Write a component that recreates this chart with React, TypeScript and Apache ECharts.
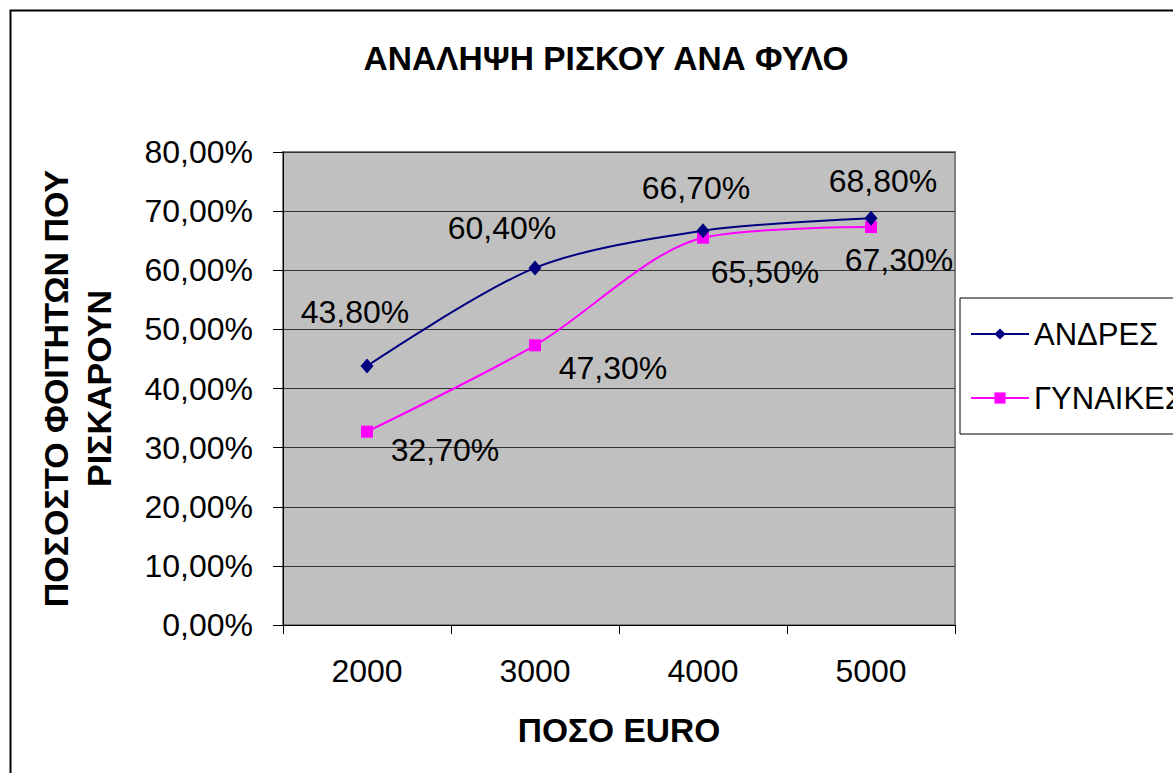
import React, { useEffect, useRef } from "react";
import * as echarts from "echarts";

const categories = ["2000", "3000", "4000", "5000"];
const menValues = [43.8, 60.4, 66.7, 68.8];
const womenValues = [32.7, 47.3, 65.5, 67.3];
const seriesNames = ["ΑΝΔΡΕΣ", "ΓΥΝΑΙΚΕΣ"];
const titleText = "ΑΝΑΛΗΨΗ ΡΙΣΚΟΥ ΑΝΑ ΦΥΛΟ";
const xAxisTitle = "ΠΟΣΟ EURO";
const yAxisTitle = "ΠΟΣΟΣΤΟ ΦΟΙΤΗΤΩΝ ΠΟΥ\nΡΙΣΚΑΡΟΥΝ";

// label placement (layout only)
const menLabelOffsets = [[-12, -54], [-33, -40], [-7, -43], [12, -37]];
const womenLabelOffsets = [[78, 18], [78, 23], [62, 34], [28, 33]];

const FONT = "'Liberation Sans', Arial, sans-serif";
const fmt = (v: number) => v.toFixed(2).replace(".", ",") + "%";

export default function App() {
  const ref = useRef<HTMLDivElement>(null);
  useEffect(() => {
    if (!ref.current) return;
    const chart = echarts.init(ref.current, undefined, { renderer: "svg" });
    const mkData = (vals: number[], offs: number[][]) =>
      vals.map((v, i) => ({
        value: v,
        label: { offset: offs[i] },
      }));
    const labelStyle = {
      show: true,
      position: "inside" as const,
      formatter: (p: any) => fmt(p.value),
      fontSize: 32,
      fontFamily: FONT,
      color: "#000",
    };
    chart.setOption({
      animation: false,
      backgroundColor: "#fff",
      textStyle: { fontFamily: FONT },
      title: {
        text: titleText,
        left: 601,
        top: 36,
        textAlign: "center",
        textStyle: { fontSize: 33.5, fontWeight: "bold", color: "#000", fontFamily: FONT },
      },
      legend: {
        orient: "vertical",
        left: 960,
        top: 298,
        padding: [20, 30, 20, 10],
        itemGap: 32,
        itemWidth: 58,
        itemHeight: 14,
        borderColor: "#000",
        borderWidth: 1,
        backgroundColor: "#fff",
        textStyle: { fontSize: 31, color: "#000", fontFamily: FONT, lineHeight: 32 },
        data: seriesNames,
      },
      grid: {
        left: 283,
        top: 152,
        right: 218,
        bottom: 148,
        show: true,
        backgroundColor: "#C0C0C0",
        borderColor: "#808080",
        borderWidth: 2,
      },
      xAxis: {
        type: "category",
        data: categories,
        boundaryGap: true,
        axisLine: { lineStyle: { color: "#000", width: 1 } },
        axisTick: { show: true, length: 9, lineStyle: { color: "#000" } },
        axisLabel: { fontSize: 32, color: "#000", margin: 30, fontFamily: FONT },
        name: xAxisTitle,
        nameLocation: "middle",
        nameGap: 88,
        nameTextStyle: { fontSize: 33.5, fontWeight: "bold", color: "#000", fontFamily: FONT },
      },
      yAxis: {
        type: "value",
        min: 0,
        max: 80,
        interval: 10,
        axisLine: { show: true, lineStyle: { color: "#000", width: 1 } },
        axisTick: { show: true, length: 10, lineStyle: { color: "#000" } },
        axisLabel: { fontSize: 32, color: "#000", margin: 30, formatter: (v: number) => fmt(v), fontFamily: FONT },
        splitLine: { show: true, lineStyle: { color: "#333", width: 1 } },
        name: yAxisTitle,
        nameLocation: "middle",
        nameRotate: 90,
        nameGap: 163,
        nameTextStyle: { fontSize: 34, fontWeight: "bold", color: "#000", lineHeight: 43, fontFamily: FONT },
      },
      series: [
        {
          name: seriesNames[0],
          type: "line",
          smooth: 0.3,
          data: mkData(menValues, menLabelOffsets),
          symbol: "diamond",
          symbolSize: [13, 15],
          lineStyle: { color: "#000080", width: 2 },
          itemStyle: { color: "#000080" },
          label: labelStyle,
          z: 3,
        },
        {
          name: seriesNames[1],
          type: "line",
          smooth: 0.3,
          data: mkData(womenValues, womenLabelOffsets),
          symbol: "rect",
          symbolSize: 12,
          lineStyle: { color: "#FF00FF", width: 2 },
          itemStyle: { color: "#FF00FF" },
          label: labelStyle,
          z: 2,
        },
      ],
      graphic: [
        {
          type: "rect",
          shape: { x: 10.5, y: 10.5, width: 1300, height: 900 },
          style: { fill: "none", stroke: "#000", lineWidth: 2 },
          silent: true,
          z: 100,
        },
      ],
    });
    return () => chart.dispose();
  }, []);
  return (
    <div
      ref={ref}
      style={{ position: "fixed", left: 0, top: 0, width: 1173, height: 773 }}
    />
  );
}
